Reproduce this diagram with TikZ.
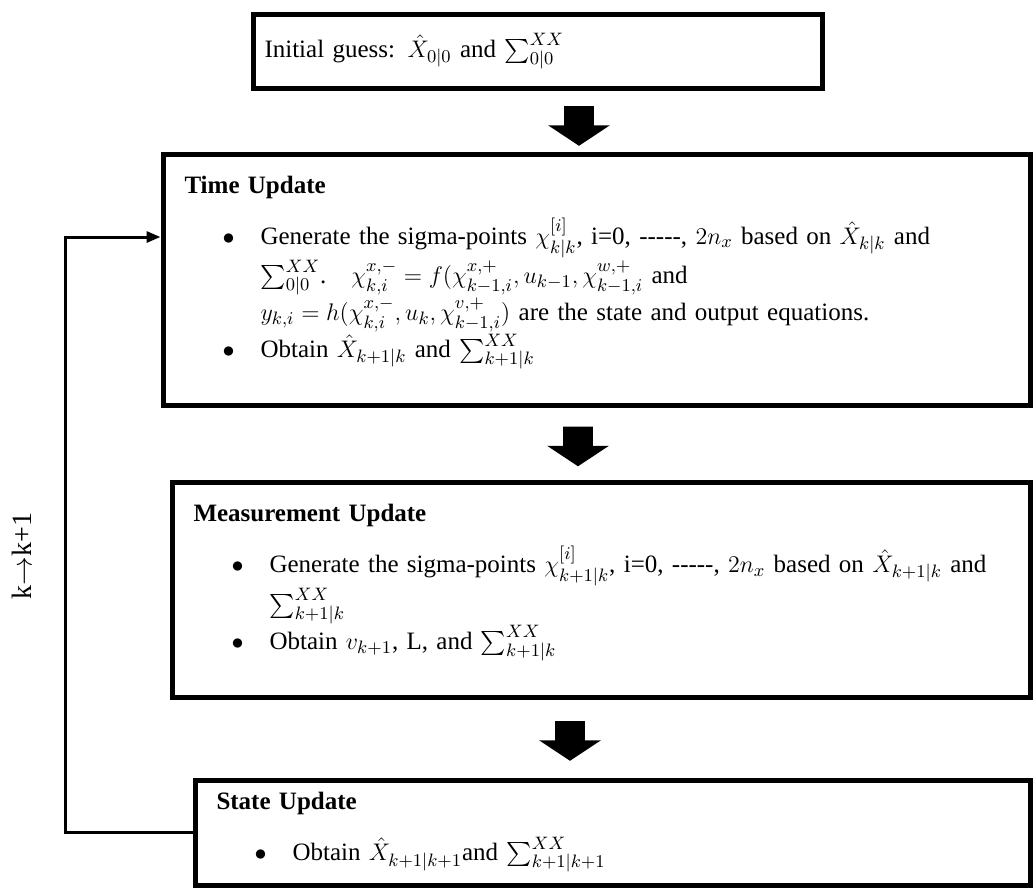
\documentclass[tikz,border=0pt]{standalone}
\usepackage{fontspec}
\setmainfont{Liberation Serif}
\usepackage{amsmath}
\usepackage{enumitem}
\usetikzlibrary{arrows.meta, positioning, shapes.arrows}
\setlist[itemize]{label=$\bullet$, leftmargin=38pt, labelsep=13pt, topsep=7pt, itemsep=0pt, parsep=0pt, partopsep=0pt}

\begin{document}
\begin{tikzpicture}[
  x=0.5pt, y=-0.5pt,
  stage/.style={rectangle, draw, line width=2.5pt, anchor=north west, align=left,
    inner xsep=10.75pt, inner ysep=0pt, font=\fontsize{12.5}{18.5}\selectfont},
  blockarrow/.style={single arrow, fill=black, draw=none, shape border rotate=270,
    minimum height=18pt, inner sep=7.25pt, single arrow head extend=8pt,
    single arrow tip angle=113},
  fb/.style={-{Triangle[length=7pt,width=5.5pt]}, line width=1.5pt}
]
\useasboundingbox (0,0) rectangle (1033,890);

\node[stage, text width=273pt, minimum height=37pt, inner xsep=5.75pt] (init) at (250.5,11.5)
  {Initial guess: $\hat{X}_{0|0}$ and $\sum_{0|0}^{XX}$\par\vspace*{8pt}};
\node[stage, text width=412pt, minimum height=125.5pt] (time) at (160.5,151.5) {%
  \textbf{Time Update}
  \begin{itemize}
  \item Generate the sigma-points $\chi_{k|k}^{[i]}$, i=0, -{}-{}-{}-{}-, $2n_x$ based on $\hat{X}_{k|k}$ and\\
    $\sum_{0|0}^{XX}$.\quad $\chi_{k,i}^{x,-}=f(\chi_{k-1,i}^{x,+},u_{k-1},\chi_{k-1,i}^{w,+}$ and\\
    $y_{k,i}=h(\chi_{k,i}^{x,-},u_k,\chi_{k-1,i}^{v,+})$ are the state and output equations.
  \item Obtain $\hat{X}_{k+1|k}$ and $\sum_{k+1|k}^{XX}$
  \end{itemize}\par\vspace*{11pt}};
\node[stage, text width=407.5pt, minimum height=107.5pt] (meas) at (169.5,479.5) {%
  \textbf{Measurement Update}
  \begin{itemize}
  \item Generate the sigma-points $\chi_{k+1|k}^{[i]}$, i=0, -{}-{}-{}-{}-, $2n_x$ based on $\hat{X}_{k+1|k}$ and\\
    $\sum_{k+1|k}^{XX}$
  \item Obtain $v_{k+1}$, L, and $\sum_{k+1|k}^{XX}$
  \end{itemize}\par\vspace*{17pt}};
\node[stage, text width=396pt, minimum height=52.5pt] (state) at (192.5,777.5) {%
  \textbf{State Update}
  \begin{itemize}
  \item Obtain $\hat{X}_{k+1|k+1}$and $\sum_{k+1|k+1}^{XX}$
  \end{itemize}};

% block arrows between the stages
\node[blockarrow] (arr1) at (579,121) {};
\node[blockarrow] (arr2) at (578,441.5) {};
\node[blockarrow] (arr3) at (570,736) {};

% feedback loop
\coordinate (loop) at (65,237);
\draw[fb] (state.west) -| (loop) -- (time.west |- loop);
\node[rotate=90, font=\fontsize{14}{14}\selectfont] (klabel) at (22,556) {k$\rightarrow$k+1};
\end{tikzpicture}
\end{document}
